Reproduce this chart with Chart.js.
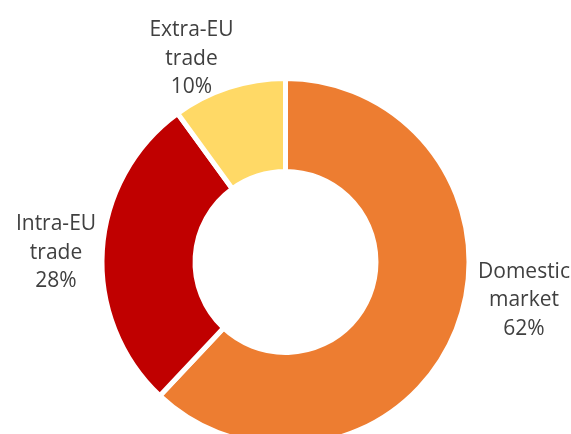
<!DOCTYPE html>
<html><head><meta charset="utf-8">
<script src="https://cdn.jsdelivr.net/npm/chart.js@4"></script>
<style>
html,body{margin:0;padding:0;overflow:hidden;background:#fff;width:571px;height:434px}
#wrap{position:absolute;left:0;top:0;width:571px;height:524px}
</style></head>
<body><div id="wrap"><canvas id="c"></canvas></div>
<script>
const categories = ['Domestic market', 'Intra-EU trade', 'Extra-EU trade'];
const labelLines = [['Domestic', 'market'], ['Intra-EU', 'trade'], ['Extra-EU', 'trade']];
const shares = [62, 28, 10];
const colors = ['#ED7D31', '#C00000', '#FFD966'];

const outsideLabels = {
  id: 'outsideLabels',
  afterDatasetsDraw(chart, args, opts) {
    const ctx = chart.ctx;
    const meta = chart.getDatasetMeta(0);
    ctx.save();
    ctx.font = opts.font;
    ctx.fillStyle = opts.color;
    ctx.textAlign = 'center';
    ctx.textBaseline = 'alphabetic';
    meta.data.forEach((arc, i) => {
      const off = opts.offsets[i];
      const lines = labelLines[i].concat([shares[i] + '%']);
      lines.forEach((t, j) => {
        ctx.fillText(t, arc.x + off[0], arc.y + off[1] + j * opts.lineHeight);
      });
    });
    ctx.restore();
  }
};

new Chart(document.getElementById('c'), {
  type: 'doughnut',
  data: {
    labels: categories,
    datasets: [{
      data: shares,
      backgroundColor: colors,
      borderColor: '#ffffff',
      borderWidth: 5
    }]
  },
  options: {
    responsive: true,
    maintainAspectRatio: false,
    animation: false,
    radius: 183.5,
    cutout: '49.3%',
    layout: { padding: 0 },
    plugins: {
      legend: { display: false },
      tooltip: { enabled: false },
      outsideLabels: {
        font: '21px "Open Sans"',
        color: '#404040',
        lineHeight: 28.7,
        offsets: [[238.5, 15.5], [-229.5, -32], [-94, -226]]
      }
    }
  },
  plugins: [outsideLabels]
});
</script>
</body></html>
